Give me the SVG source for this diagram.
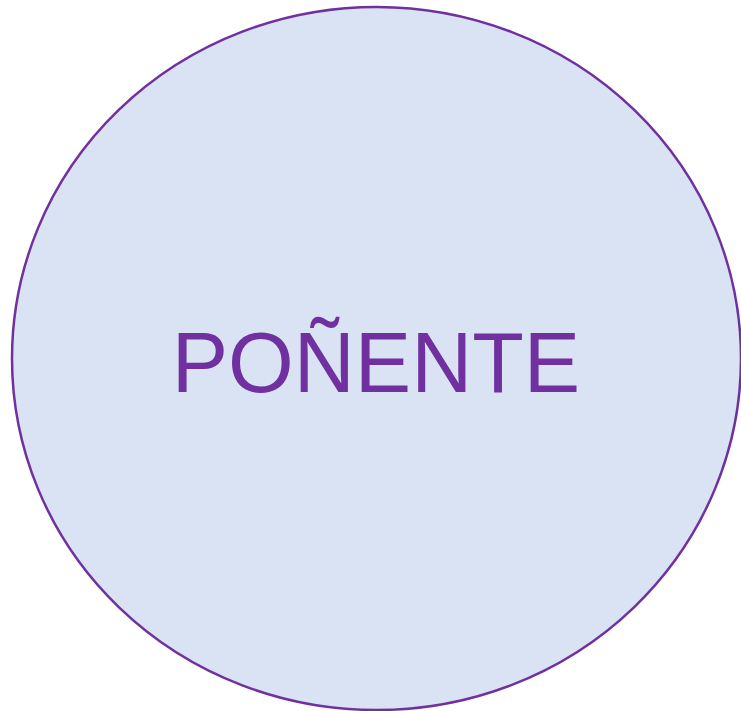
<svg xmlns="http://www.w3.org/2000/svg" width="741" height="711" viewBox="0 0 741 711">
<style>
.node{fill:#DAE3F3;stroke:#7030A0;stroke-width:2.5}
.lbl{font-family:"Liberation Sans",Arial,sans-serif;font-size:84.5px;fill:#7030A0;text-anchor:middle}
</style>
<rect width="741" height="711" fill="#ffffff"/>
<g id="connectors"></g>
<g id="poniente">
<ellipse class="node" cx="376.5" cy="358.5" rx="364.5" ry="351.5"/>
<text class="lbl" x="376" y="392">POÑENTE</text>
</g>
</svg>
